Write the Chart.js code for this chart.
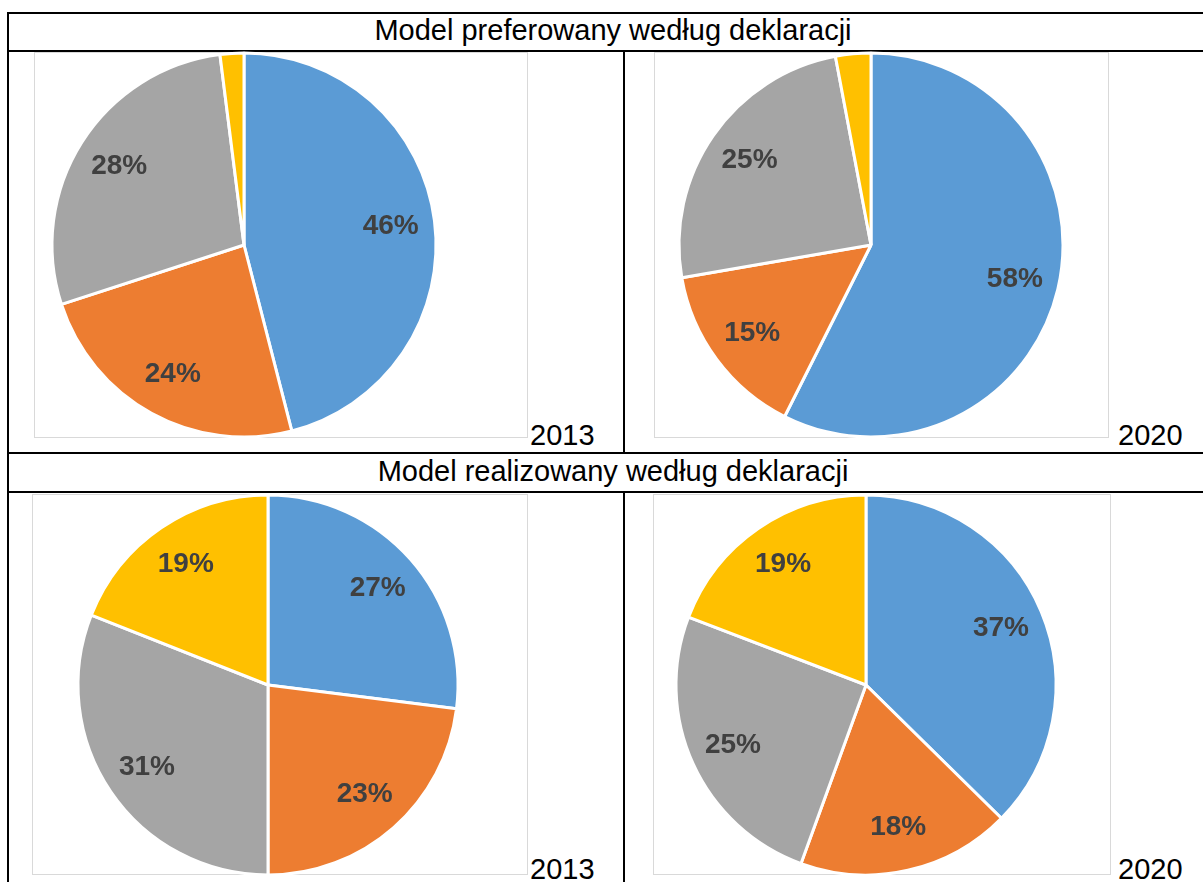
<!DOCTYPE html>
<html>
<head>
<meta charset="utf-8">
<script src="https://cdn.jsdelivr.net/npm/chart.js@4/dist/chart.umd.min.js"></script>
<style>
  html, body { margin: 0; padding: 0; background: #fff; }
  body { width: 1203px; height: 882px; position: relative; overflow: hidden; font-family: "Liberation Sans", Arial, sans-serif; }
  .hl { position: absolute; background: #000; height: 2px; }
  .vl { position: absolute; background: #000; width: 2px; }
  .box { position: absolute; border: 1px solid #d9d9d9; box-sizing: border-box; }
  .head { position: absolute; left: 9px; width: 1208px; text-align: center; font-size: 29px; line-height: 33px; color: #000; }
  .year { position: absolute; font-size: 29px; line-height: 33px; color: #000; }
  canvas { position: absolute; }
</style>
</head>
<body>
<!-- linie tabeli -->
<div class="hl" style="left:7px; top:12px; width:1196px;"></div>
<div class="hl" style="left:7px; top:50px; width:1196px;"></div>
<div class="hl" style="left:7px; top:452px; width:1196px;"></div>
<div class="hl" style="left:7px; top:491px; width:1196px;"></div>
<div class="vl" style="left:7px; top:12px; height:870px;"></div>
<div class="vl" style="left:623px; top:51px; height:402px;"></div>
<div class="vl" style="left:623px; top:492px; height:390px;"></div>

<div class="head" style="top:14px;">Model preferowany według deklaracji</div>
<div class="head" style="top:455px;">Model realizowany według deklaracji</div>

<!-- ramki wykresów -->
<div class="box" style="left:34px; top:52px; width:494px; height:386px;"></div>
<div class="box" style="left:654px; top:52px; width:455px; height:386px;"></div>
<div class="box" style="left:32px; top:494px; width:496px; height:381px;"></div>
<div class="box" style="left:653px; top:494px; width:458px; height:381px;"></div>

<div class="year" style="left:530px; top:419px;">2013</div>
<div class="year" style="left:1118px; top:419px;">2020</div>
<div class="year" style="left:530px; top:853px;">2013</div>
<div class="year" style="left:1118px; top:853px;">2020</div>

<canvas id="pie1" width="400" height="400" style="left:44px; top:45px;"></canvas>
<canvas id="pie2" width="400" height="400" style="left:671px; top:45px;"></canvas>
<canvas id="pie3" width="400" height="400" style="left:68px; top:485px;"></canvas>
<canvas id="pie4" width="400" height="400" style="left:666px; top:485px;"></canvas>

<script>
// udziały procentowe (kolejno: niebieski, pomarańczowy, szary, żółty)
const categories = ['A', 'B', 'C', 'D'];
const preferowany2013 = [46, 24, 28, 2];
const preferowany2020 = [58, 15, 25, 3];
const realizowany2013 = [27, 23, 31, 19];
const realizowany2020 = [37, 18, 25, 19];

const sliceColors = ['#5B9BD5', '#ED7D31', '#A5A5A5', '#FFC000'];

// etykiety procentowe wewnątrz wycinków
const pctLabels = {
  id: 'pctLabels',
  afterDatasetsDraw(chart) {
    const ctx = chart.ctx;
    const data = chart.data.datasets[0].data;
    chart.getDatasetMeta(0).data.forEach((arc, i) => {
      if (data[i] < 5) return; // małe wycinki bez etykiety
      const p = arc.getProps(['x', 'y', 'startAngle', 'endAngle', 'outerRadius'], true);
      const mid = (p.startAngle + p.endAngle) / 2;
      const r = p.outerRadius * 0.77;
      ctx.save();
      ctx.font = 'bold 28px "Liberation Sans", Arial, sans-serif';
      ctx.fillStyle = '#404040';
      ctx.textAlign = 'center';
      ctx.textBaseline = 'middle';
      ctx.fillText(data[i] + '%', p.x + Math.cos(mid) * r, p.y + Math.sin(mid) * r);
      ctx.restore();
    });
  }
};

function drawPie(id, values, radius) {
  new Chart(document.getElementById(id), {
    type: 'pie',
    data: {
      labels: categories,
      datasets: [{
        data: values,
        backgroundColor: sliceColors,
        borderColor: '#ffffff',
        borderWidth: 3
      }]
    },
    options: {
      responsive: false,
      animation: false,
      radius: radius,
      layout: { padding: 0 },
      plugins: { legend: { display: false }, tooltip: { enabled: false } }
    },
    plugins: [pctLabels]
  });
}

drawPie('pie1', preferowany2013, 192);
drawPie('pie2', preferowany2020, 192);
drawPie('pie3', realizowany2013, 190);
drawPie('pie4', realizowany2020, 190);
</script>
</body>
</html>
